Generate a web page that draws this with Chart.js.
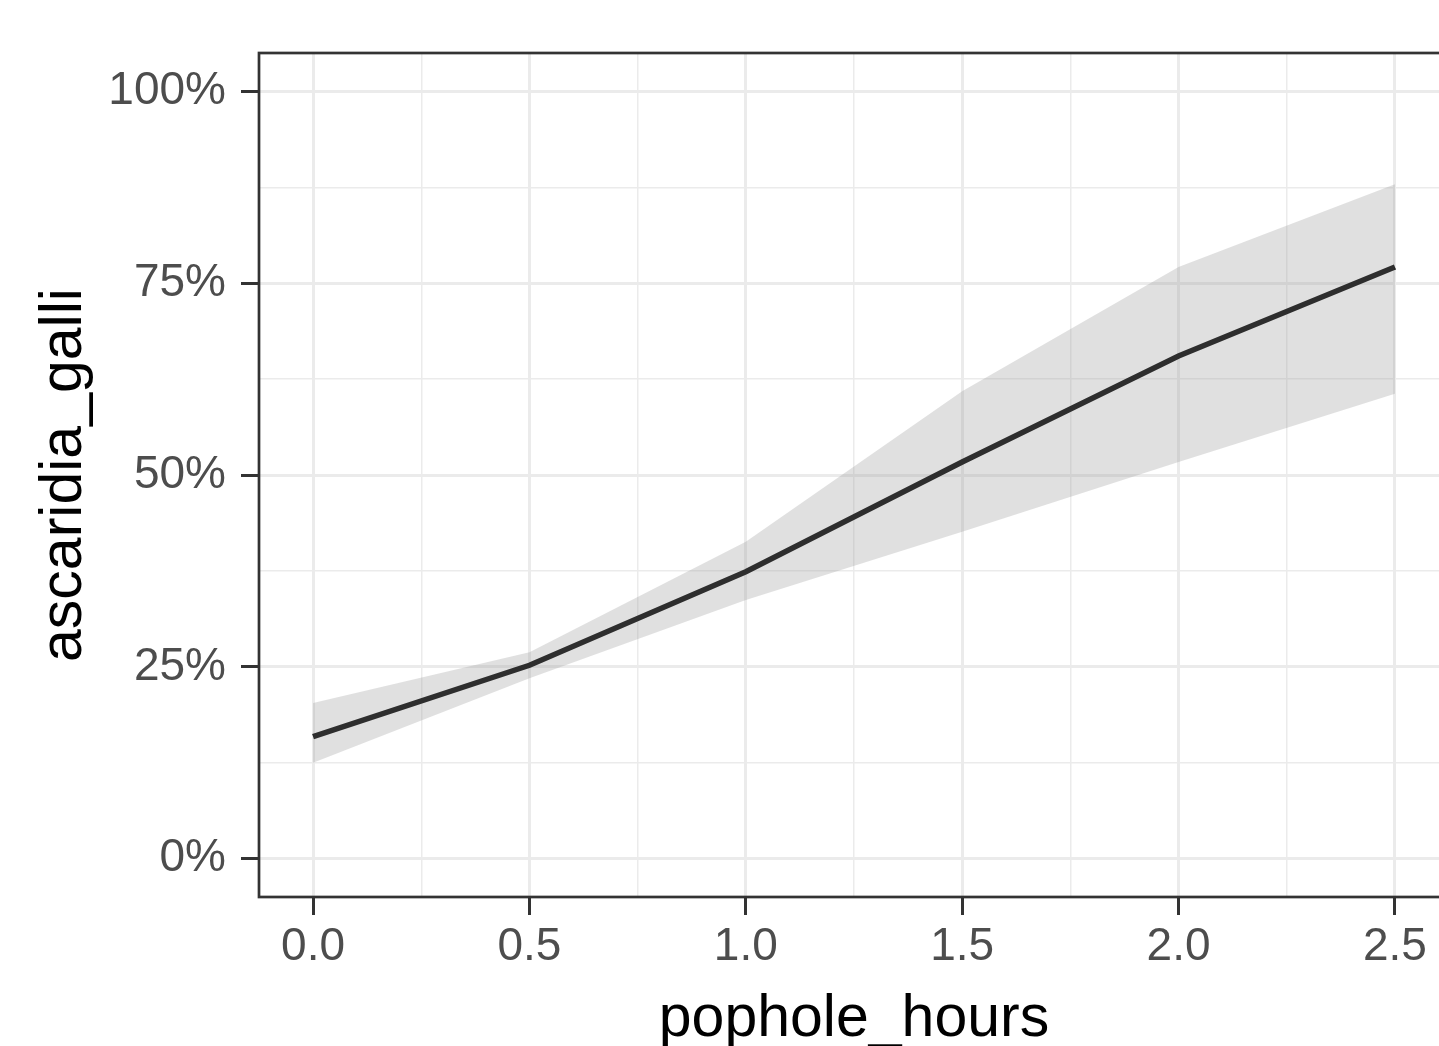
<!DOCTYPE html>
<html>
<head>
<meta charset="utf-8">
<script src="https://cdn.jsdelivr.net/npm/chart.js@4"></script>
<style>
    html, body { margin: 0; padding: 0; background: #fff; overflow: hidden; }
    canvas { display: block; }
</style>
</head>
<body>
<canvas id="effectChart" width="1460" height="1046"></canvas>
<script>
// data
const popholeHours = [0, 0.5, 1.0, 1.5, 2.0, 2.5];
const predicted = [15.9, 25.2, 37.4, 51.7, 65.5, 77.1];
const upperCI = [20.3, 26.9, 41.3, 60.9, 77.1, 87.9];
const lowerCI = [12.5, 23.5, 33.7, 42.6, 51.7, 60.6];

const xMajorTicks = [0, 0.5, 1.0, 1.5, 2.0, 2.5];
const xMinorTicks = [0.25, 0.75, 1.25, 1.75, 2.25];
const yMajorTicks = [0, 25, 50, 75, 100];
const yMinorTicks = [12.5, 37.5, 62.5, 87.5];

const toPoints = ys => popholeHours.map((x, i) => ({ x: x, y: ys[i] }));
const isMajor = (list, v) => list.some(m => Math.abs(m - v) < 1e-9);

// panel border like ggplot theme_bw
const panelBorder = {
    id: 'panelBorder',
    afterDatasetsDraw(chart) {
        const { ctx, chartArea: a } = chart;
        ctx.save();
        ctx.strokeStyle = '#333333';
        ctx.lineWidth = 2.7;
        ctx.strokeRect(a.left, a.top, a.right - a.left, a.bottom - a.top);
        ctx.restore();
    }
};

const tickFont = { family: '"Liberation Sans", Arial, sans-serif', size: 46 };
const titleFont = { family: '"Liberation Sans", Arial, sans-serif', size: 59, lineHeight: 1 };

new Chart(document.getElementById('effectChart'), {
    type: 'line',
    data: {
        datasets: [
            {
                label: 'lower',
                data: toPoints(lowerCI),
                borderWidth: 0,
                pointRadius: 0,
                fill: false
            },
            {
                label: 'upper',
                data: toPoints(upperCI),
                borderWidth: 0,
                pointRadius: 0,
                backgroundColor: 'rgba(153, 153, 153, 0.3)',
                fill: '-1'
            },
            {
                label: 'predicted',
                data: toPoints(predicted),
                borderColor: '#000000',
                borderWidth: 5.5,
                pointRadius: 0,
                tension: 0,
                fill: false
            }
        ]
    },
    options: {
        responsive: false,
        animation: false,
        layout: { padding: { top: 53, right: 11, left: 0, bottom: 0 } },
        plugins: {
            legend: { display: false },
            tooltip: { enabled: false }
        },
        scales: {
            x: {
                type: 'linear',
                min: -0.125,
                max: 2.625,
                afterBuildTicks: s => { s.ticks = xMajorTicks.concat(xMinorTicks).map(v => ({ value: v })); },
                afterFit: s => { s.height = 149; },
                border: { display: false },
                grid: {
                    color: '#EBEBEB',
                    lineWidth: c => isMajor(xMajorTicks, c.tick.value) ? 3 : 1.5,
                    tickLength: 18,
                    tickWidth: 3,
                    tickColor: c => isMajor(xMajorTicks, c.tick.value) ? '#333333' : 'rgba(0,0,0,0)'
                },
                ticks: {
                    autoSkip: false,
                    maxRotation: 0,
                    padding: 5,
                    color: '#4D4D4D',
                    font: tickFont,
                    callback: v => isMajor(xMajorTicks, v) ? v.toFixed(1) : ''
                },
                title: {
                    display: true,
                    text: 'pophole_hours',
                    color: '#000000',
                    font: titleFont,
                    padding: { top: 0, bottom: -3 }
                }
            },
            y: {
                type: 'linear',
                min: -5,
                max: 105,
                afterBuildTicks: s => { s.ticks = yMajorTicks.concat(yMinorTicks).map(v => ({ value: v })); },
                afterFit: s => { s.width = 259; },
                border: { display: false },
                grid: {
                    color: '#EBEBEB',
                    lineWidth: c => isMajor(yMajorTicks, c.tick.value) ? 3 : 1.5,
                    tickLength: 18,
                    tickWidth: 3,
                    tickColor: c => isMajor(yMajorTicks, c.tick.value) ? '#333333' : 'rgba(0,0,0,0)'
                },
                ticks: {
                    autoSkip: false,
                    padding: 15,
                    color: '#4D4D4D',
                    font: tickFont,
                    callback: v => isMajor(yMajorTicks, v) ? v + '%' : ''
                },
                title: {
                    display: true,
                    text: 'ascaridia_galli',
                    color: '#000000',
                    font: titleFont,
                    padding: { top: 35, bottom: 0 }
                }
            }
        }
    },
    plugins: [panelBorder]
});
</script>
</body>
</html>
